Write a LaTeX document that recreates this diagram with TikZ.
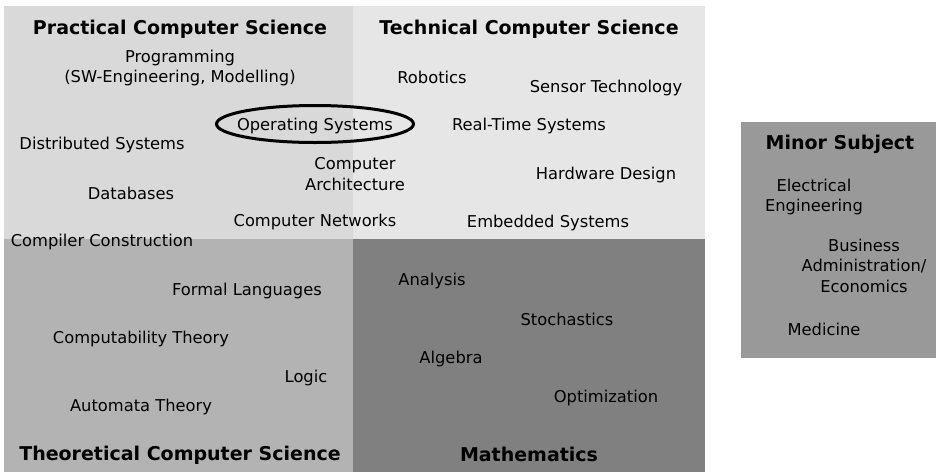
\documentclass[tikz,border=0pt]{standalone}
\usepackage{fontspec}
\setmainfont{DejaVu Sans}
\usetikzlibrary{shapes.geometric}
\definecolor{cprac}{RGB}{217,217,217}
\definecolor{ctech}{RGB}{230,230,230}
\definecolor{ctheo}{RGB}{179,179,179}
\definecolor{cmath}{RGB}{128,128,128}
\definecolor{cminor}{RGB}{153,153,153}
\tikzset{
  topic/.style={inner sep=0pt, align=center, yshift=-1.8pt, font=\fontsize{16.3}{20.5}\selectfont, text=black},
  title/.style={inner sep=0pt, align=center, yshift=-1.8pt, font=\fontsize{19}{23}\selectfont\bfseries, text=black},
  ring/.style={line width=3pt, draw=black},
}
\begin{document}
\begin{tikzpicture}[x=1pt,y=-1pt]
\useasboundingbox (0,0) rectangle (936,472);
% areas
\fill[cprac] (4,6) rectangle (353,239);
\fill[ctech] (353,6) rectangle (705,239);
\fill[ctheo] (4,239) rectangle (353,472);
\fill[cmath] (353,239) rectangle (705,472);
\fill[cminor] (741,122) rectangle (936,358);
% titles
\node[title] (tprac) at (180,27) {Practical Computer Science};
\node[title] (ttech) at (529,27) {Technical Computer Science};
\node[title] (ttheo) at (180,453) {Theoretical Computer Science};
\node[title] (tmath) at (529,453) {Mathematics};
\node[title] (tminor) at (840,143) {Minor Subject};
% practical
\node[topic] (prog) at (180,66) {Programming\\(SW-Engineering, Modelling)};
\node[topic] (dist) at (102,143) {Distributed Systems};
\node[topic] (db) at (131,192) {Databases};
\node[topic] (comp) at (102,240) {Compiler Construction};
\coordinate (oscenter) at (315,124);
\draw[ring] (oscenter) ellipse [x radius=98.5, y radius=18.5];
\node[topic] (os) at (315,124) {Operating Systems};
\node[topic] (arch) at (355,172.5) {Computer\\Architecture};
\node[topic] (net) at (315,220) {Computer Networks};
% technical
\node[topic] (rob) at (432,76) {Robotics};
\node[topic] (sens) at (606,86) {Sensor Technology};
\node[topic] (rts) at (529,124) {Real-Time Systems};
\node[topic] (hw) at (606,173) {Hardware Design};
\node[topic] (emb) at (548,221) {Embedded Systems};
% theoretical
\node[topic] (fl) at (247,289) {Formal Languages};
\node[topic] (ct) at (141,337) {Computability Theory};
\node[topic] (logic) at (306,376) {Logic};
\node[topic] (at) at (141,405) {Automata Theory};
% mathematics
\node[topic] (ana) at (432,279) {Analysis};
\node[topic] (sto) at (567,318) {Stochastics};
\node[topic] (alg) at (451,357) {Algebra};
\node[topic] (opt) at (606,396) {Optimization};
% minor
\node[topic] (ee) at (814,195) {Electrical\\Engineering};
\node[topic] (bae) at (864,264) {Business\\Administration/\\Economics};
\node[topic] (med) at (824,328) {Medicine};
\end{tikzpicture}
\end{document}
